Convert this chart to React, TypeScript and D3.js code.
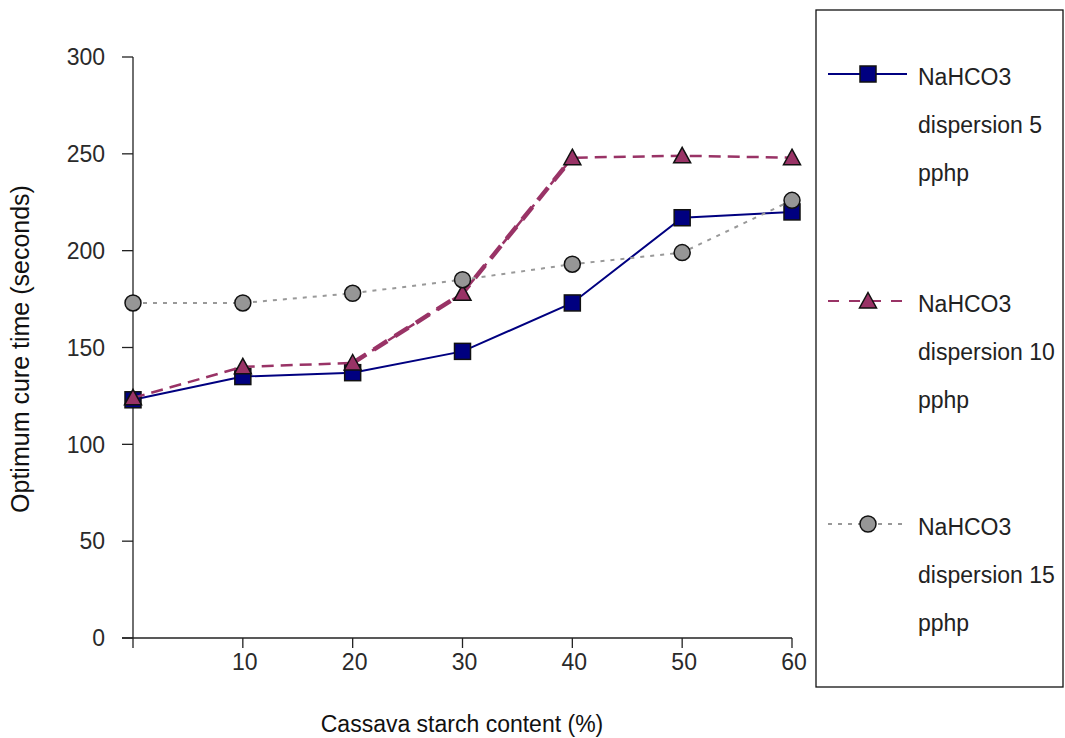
import React from "react";
import * as d3 from "d3";

const xValues = [0, 10, 20, 30, 40, 50, 60];
const xTicks = [10, 20, 30, 40, 50, 60];
const yTicks = [0, 50, 100, 150, 200, 250, 300];
const series5 = [123, 135, 137, 148, 173, 217, 220];
const series10 = [124, 140, 142, 178, 248, 249, 248];
const series15 = [173, 173, 178, 185, 193, 199, 226];
const legendLines = [
  ["NaHCO3", "dispersion 5", "pphp"],
  ["NaHCO3", "dispersion 10", "pphp"],
  ["NaHCO3", "dispersion 15", "pphp"],
];

const FONT = "'Liberation Sans', Arial, sans-serif";
const W = 1065;
const H = 738;

const x = d3.scaleLinear().domain([0, 60]).range([133, 792]);
const y = d3.scaleLinear().domain([0, 300]).range([638, 57]);

type Shape = "square" | "triangle" | "circle";

function Marker({ cx, cy, shape }: { cx: number; cy: number; shape: Shape }) {
  if (shape === "square")
    return <rect x={cx - 8} y={cy - 8} width={16} height={16} fill="#000080" stroke="#111" strokeWidth={1.5} />;
  if (shape === "triangle") {
    const p = d3.path();
    p.moveTo(cx, cy - 8.5);
    p.lineTo(cx + 8.5, cy + 7);
    p.lineTo(cx - 8.5, cy + 7);
    p.closePath();
    return <path d={p.toString()} fill="#993366" stroke="#111" strokeWidth={1.5} strokeLinejoin="miter" />;
  }
  return <circle cx={cx} cy={cy} r={8} fill="#969696" stroke="#111" strokeWidth={1.5} />;
}

export default function App() {
  const line = d3
    .line<number>()
    .x((_, i) => x(xValues[i]))
    .y((d) => y(d));

  const thickSeg = d3
    .line<number>()
    .x((_, i) => x(xValues[i + 2]))
    .y((d) => y(d));

  const series = [
    { data: series5, color: "#000080", dash: "none", width: 2, shape: "square" as Shape },
    { data: series10, color: "#993366", dash: "12,7", width: 2.5, shape: "triangle" as Shape },
    { data: series15, color: "#999999", dash: "4,6", width: 2, shape: "circle" as Shape },
  ];

  const legendY = [74, 301, 524];

  return (
    <svg
      width={W}
      height={H}
      style={{ position: "absolute", left: 0, top: 0, background: "#fff" }}
      fontFamily={FONT}
    >
      {/* axes */}
      <line x1={x(0)} x2={x(0)} y1={y(300)} y2={648} stroke="#222" strokeWidth={1.3} />
      <line x1={122} x2={x(60)} y1={y(0)} y2={y(0)} stroke="#222" strokeWidth={1.3} />
      {yTicks.map((t) => (
        <g key={"y" + t}>
          <line x1={122} x2={x(0)} y1={y(t)} y2={y(t)} stroke="#222" strokeWidth={1.3} />
          <text x={105} y={y(t)} dy="0.36em" textAnchor="end" fontSize={23} fill="#2a2a2a">
            {t}
          </text>
        </g>
      ))}
      {xTicks.map((t) => (
        <g key={"x" + t}>
          <line x1={x(t)} x2={x(t)} y1={y(0)} y2={648} stroke="#222" strokeWidth={1.3} />
          <text x={x(t) + 2} y={670} textAnchor="middle" fontSize={23} fill="#2a2a2a">
            {t}
          </text>
        </g>
      ))}
      <text x={462} y={732} textAnchor="middle" fontSize={23} fill="#111">
        Cassava starch content (%)
      </text>
      <text
        transform={`translate(29,349) rotate(-90)`}
        textAnchor="middle"
        fontSize={25}
        fill="#111"
      >
        Optimum cure time (seconds)
      </text>

      {/* series */}
      {series.map((s, si) => (
        <g key={"s" + si}>
          <path
            d={line(s.data) || ""}
            fill="none"
            stroke={s.color}
            strokeWidth={s.width}
            strokeDasharray={s.dash}
          />
          {s.shape === "triangle" && (
            <path
              d={thickSeg(s.data.slice(2, 5)) || ""}
              fill="none"
              stroke={s.color}
              strokeWidth={4.5}
              strokeDasharray="16,9"
            />
          )}
          {s.data.map((v, i) => (
            <Marker key={i} cx={x(xValues[i])} cy={y(v)} shape={s.shape} />
          ))}
        </g>
      ))}

      {/* legend */}
      <rect x={816} y={10} width={247} height={677} fill="#fff" stroke="#111" strokeWidth={1.3} />
      {series.map((s, si) => (
        <g key={"l" + si}>
          <line
            x1={828}
            x2={907}
            y1={legendY[si]}
            y2={legendY[si]}
            stroke={s.color}
            strokeWidth={2}
            strokeDasharray={si === 1 ? "11,10" : si === 2 ? "4,6" : "none"}
          />
          <Marker cx={868} cy={legendY[si]} shape={s.shape} />
          {legendLines[si].map((t, li) => (
            <text key={li} x={918} y={legendY[si] + 11 + li * 48} fontSize={23} fill="#222">
              {t}
            </text>
          ))}
        </g>
      ))}
    </svg>
  );
}
